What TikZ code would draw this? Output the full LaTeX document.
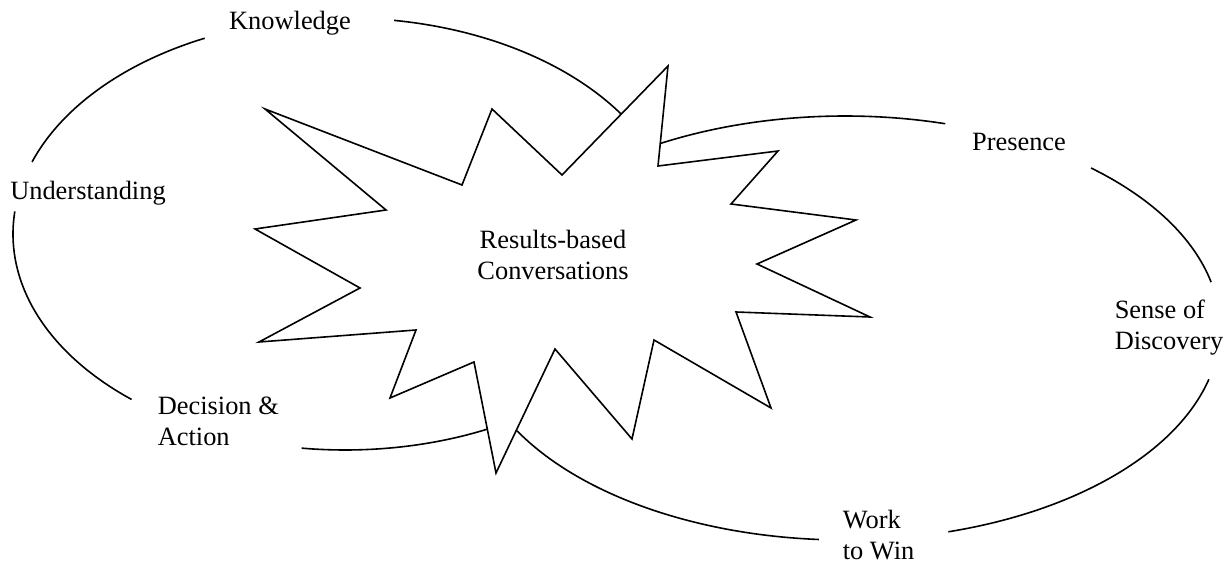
\documentclass[tikz,border=0pt]{standalone}
\usepackage{fontspec}
\setmainfont{Liberation Serif}
\begin{document}
\begin{tikzpicture}[x=0.5pt,y=0.5pt,line width=0.8pt,font=\fontsize{13.2}{15.5}\selectfont,
  lbl/.style={inner sep=0pt,align=left}]
\useasboundingbox (0,0) rectangle (1230,562);
\pgfmathsetmacro{\ra}{166}
\pgfmathsetmacro{\rb}{108}
\pgfmathsetmacro{\rc}{187.5}
\pgfmathsetmacro{\rd}{106}
\draw([shift={(81.5:\ra pt and \rb pt)}]345,328) arc (81.5:33:\ra pt and \rb pt);
\draw([shift={(115:\ra pt and \rb pt)}]345,328) arc (115:160.5:\ra pt and \rb pt);
\draw([shift={(174:\ra pt and \rb pt)}]345,328) arc (174:230:\ra pt and \rb pt);
\draw([shift={(262.5:\ra pt and \rb pt)}]345,328) arc (262.5:297:\ra pt and \rb pt);
\draw([shift={(74.5:\rc pt and \rd pt)}]845,234) arc (74.5:122:\rc pt and \rd pt);
\draw([shift={(49:\rc pt and \rd pt)}]845,234) arc (49:12.5:\rc pt and \rd pt);
\draw([shift={(-14:\rc pt and \rd pt)}]845,234) arc (-14:-74:\rc pt and \rd pt);
\draw([shift={(-94:\rc pt and \rd pt)}]845,234) arc (-94:-151:\rc pt and \rd pt);
\draw[fill=white,line join=miter](265,453)--(462,377)--(492,453)--(562,387)--(668,496)--(658,396)
  --(778,411)--(731,358)--(856,342)--(757,298)--(870,245)--(736,250)
  --(771,154)--(654,222)--(632,123)--(555,213)--(496,89)--(474,200)
  --(390,164)--(416,232)--(259,220)--(360,274)--(255,333)--(386,352)--cycle;
\node[lbl](know) at (290,539){Knowledge};
\node[lbl](underst) at (88,369){Understanding};
\node[lbl](presence) at (1019,420){Presence};
\node[lbl,anchor=north west](discovery) at (1114,263){Sense of\\Discovery};
\node[lbl,anchor=north west](work) at (842,53){Work\\to Win};
\node[lbl,anchor=north west](decision) at (157,166){Decision \&\\Action};
\node[lbl,align=center](results) at (553,307){Results-based\\Conversations};
\end{tikzpicture}
\end{document}
